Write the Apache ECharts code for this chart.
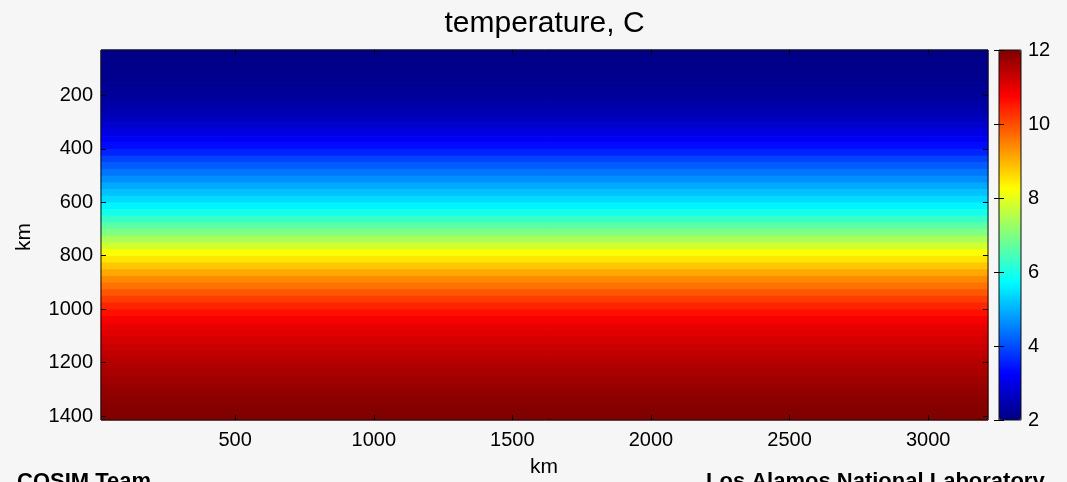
<!DOCTYPE html>
<html><head><meta charset="utf-8">
<script src="https://cdn.jsdelivr.net/npm/echarts@6/dist/echarts.min.js"></script>
<style>html,body{margin:0;padding:0;background:#f6f6f6}#c{width:1067px;height:482px}</style>
</head><body><div id="c"></div>
<script>
// depth of each row centre (km) and its temperature (C)
const depthKm = [40,65,90,115,140,165,190,215,240,265,290,315,340,365,390,415,440,465,490,515,540,565,590,615,640,665,690,715,740,765,790,815,840,865,890,915,940,965,990,1015,1040,1065,1090,1115,1140,1165,1190,1215,1240,1265,1290,1315,1340,1365,1390,1415];
const temperatureC = [2.05,2.08,2.1,2.12,2.15,2.2,2.25,2.32,2.4,2.5,2.62,2.78,2.95,3.15,3.35,3.6,3.9,4.15,4.4,4.65,4.9,5.15,5.4,5.65,5.95,6.3,6.65,7.0,7.4,7.8,8.2,8.5,8.8,9.1,9.4,9.65,9.9,10.15,10.4,10.6,10.8,10.95,11.05,11.15,11.25,11.35,11.45,11.52,11.6,11.67,11.75,11.82,11.88,11.94,11.98,12.0];
const xRangeKm = [16, 3216];
const yRangeKm = [30, 1415];
const rowHeightKm = 25;
const xTicks = [500,1000,1500,2000,2500,3000];
const yTicks = [200,400,600,800,1000,1200,1400];
const colorbarRange = [2, 12];
const colorbarStep = 2;
const jet = ['#000080','#0000ff','#0080ff','#00ffff','#80ff80','#ffff00','#ff8000','#ff0000','#800000'];

const FONT = 'Liberation Sans, Arial, sans-serif';
const chart = echarts.init(document.getElementById('c'), null, {renderer: 'canvas'});

const rows = depthKm.map((d, i) => [xRangeKm[0], d, temperatureC[i]]);

const tickStyle = {show: true, inside: true, length: 5, lineStyle: {color: '#000', width: 1}};
const lbl = {color: '#000', fontSize: 20, fontFamily: FONT, formatter: v => String(v)};

const option = {
  backgroundColor: '#f6f6f6',
  animation: false,
  grid: [
    {left: 101, top: 50, width: 887, height: 370, show: true, borderColor: '#111', borderWidth: 1, backgroundColor: 'transparent', z: 6},
    {left: 999, top: 50, width: 22, height: 370, show: true, borderColor: '#111', borderWidth: 1, backgroundColor: 'transparent', z: 10}
  ],
  xAxis: [
    {gridIndex: 0, type: 'value', position: 'bottom', min: xRangeKm[0], max: xRangeKm[1], z: 6,
     axisLine: {show: false}, splitLine: {show: false},
     axisTick: Object.assign({customValues: xTicks}, tickStyle),
     axisLabel: Object.assign({customValues: xTicks, margin: 10}, lbl)},
    {gridIndex: 0, type: 'value', position: 'top', min: xRangeKm[0], max: xRangeKm[1], z: 6,
     axisLine: {show: false}, splitLine: {show: false},
     axisTick: Object.assign({customValues: xTicks}, tickStyle),
     axisLabel: {show: false}},
    {gridIndex: 1, type: 'value', min: 0, max: 1, show: false}
  ],
  yAxis: [
    {gridIndex: 0, type: 'value', position: 'left', inverse: true, min: yRangeKm[0], max: yRangeKm[1], z: 6,
     axisLine: {show: false}, splitLine: {show: false},
     axisTick: Object.assign({customValues: yTicks}, tickStyle),
     axisLabel: Object.assign({customValues: yTicks, margin: 8}, lbl)},
    {gridIndex: 0, type: 'value', position: 'right', inverse: true, min: yRangeKm[0], max: yRangeKm[1], z: 6,
     axisLine: {show: false}, splitLine: {show: false},
     axisTick: Object.assign({customValues: yTicks}, tickStyle),
     axisLabel: {show: false}},
    {gridIndex: 1, type: 'value', position: 'right', min: colorbarRange[0], max: colorbarRange[1], interval: colorbarStep, z: 10,
     axisLine: {show: false}, splitLine: {show: false},
     axisTick: tickStyle,
     axisLabel: Object.assign({margin: 7}, lbl)},
    {gridIndex: 1, type: 'value', position: 'left', min: colorbarRange[0], max: colorbarRange[1], interval: colorbarStep, z: 10,
     axisLine: {show: false}, splitLine: {show: false},
     axisTick: tickStyle,
     axisLabel: {show: false}}
  ],
  visualMap: {
    type: 'continuous', min: colorbarRange[0], max: colorbarRange[1], dimension: 2, seriesIndex: 0,
    calculable: false, showLabel: false, text: null,
    left: 999, top: 50, itemWidth: 22, itemHeight: 370, padding: 0,
    inRange: {color: jet}
  },
  series: [{
    type: 'custom', xAxisIndex: 0, yAxisIndex: 0, data: rows,
    encode: {x: 0, y: 1},
    renderItem: function (params, api) {
      const d = api.value(1);
      const p0 = api.coord([xRangeKm[0], d - rowHeightKm / 2]);
      const p1 = api.coord([xRangeKm[1], d + rowHeightKm / 2]);
      const cs = params.coordSys;
      const shape = echarts.graphic.clipRectByRect(
        {x: p0[0], y: Math.min(p0[1], p1[1]), width: p1[0] - p0[0], height: Math.abs(p1[1] - p0[1])},
        {x: cs.x, y: cs.y, width: cs.width, height: cs.height});
      if (!shape) return;
      const c = api.visual('color');
      return {type: 'rect', shape: shape, style: {fill: c, stroke: c, lineWidth: 1}};
    }
  }],
  graphic: [
    {type: 'text', x: 544.5, y: 24, style: {text: 'temperature, C', textAlign: 'center', textVerticalAlign: 'middle', font: '30px ' + FONT, fill: '#000'}},
    {type: 'text', x: 24, y: 237, rotation: Math.PI / 2, style: {text: 'km', textAlign: 'center', textVerticalAlign: 'middle', font: '21px ' + FONT, fill: '#000'}},
    {type: 'text', x: 544, y: 467, style: {text: 'km', textAlign: 'center', textVerticalAlign: 'middle', font: '21px ' + FONT, fill: '#000'}},
    {type: 'text', x: 17, y: 471, style: {text: 'COSIM Team', textAlign: 'left', textVerticalAlign: 'top', font: 'bold 22px ' + FONT, fill: '#000'}},
    {type: 'text', x: 706, y: 471, style: {text: 'Los Alamos National Laboratory', textAlign: 'left', textVerticalAlign: 'top', font: 'bold 22px ' + FONT, fill: '#000'}}
  ]
};
chart.setOption(option);
</script>
</body></html>
